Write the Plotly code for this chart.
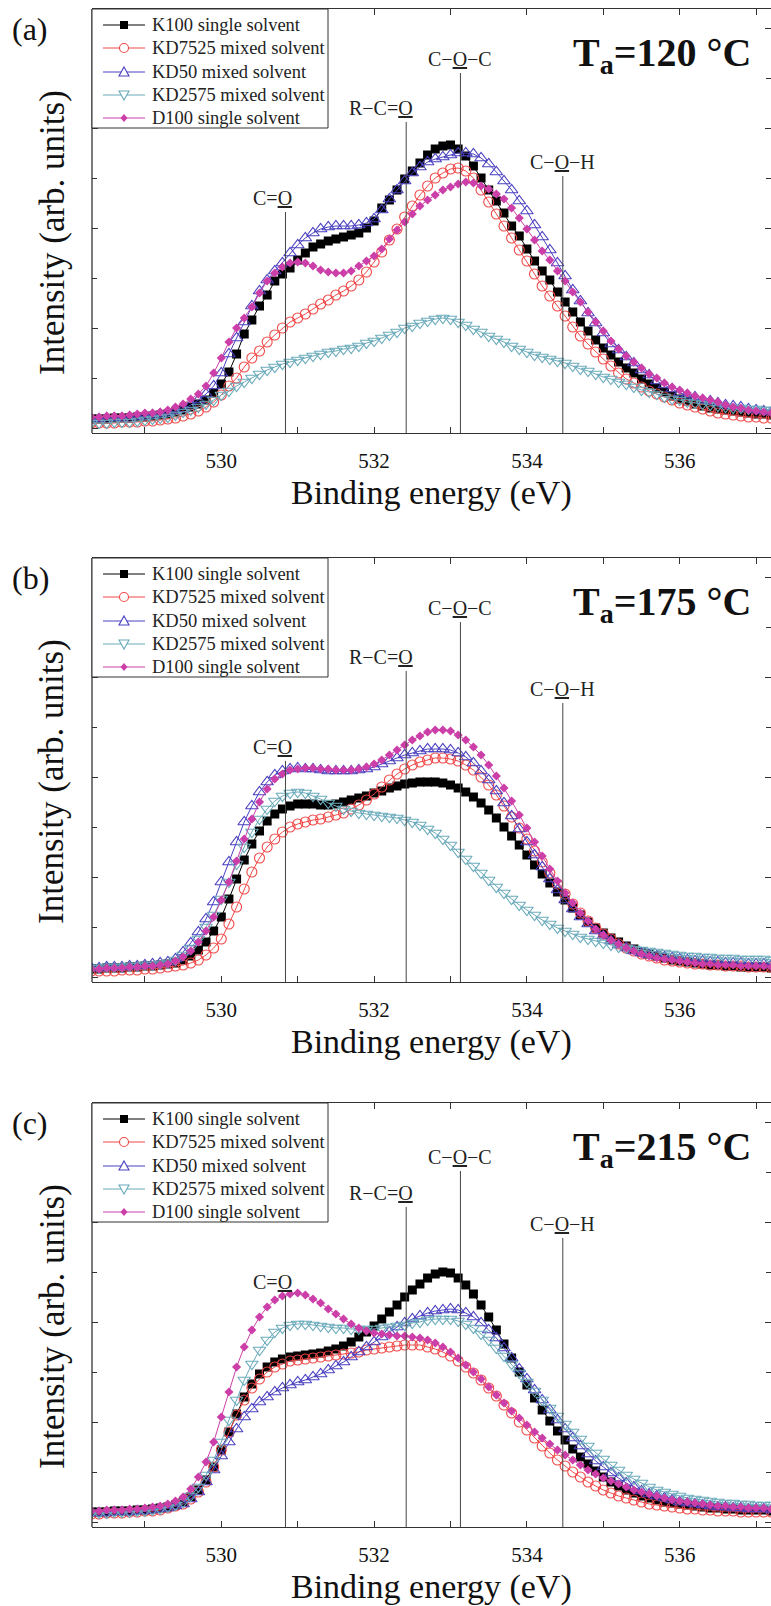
import numpy as np
import plotly.graph_objects as go

W, H = 771, 1606

# Binding-energy grid (eV), 0.1 eV steps
energy = np.round(np.arange(528.3, 537.25, 0.1), 1)

# ---------------- (a) Ta = 120 C ----------------
k100_a = [0.09,0.09,0.09,0.10,0.10,0.10,0.11,0.11,
          0.12,0.13,0.14,0.16,0.18,0.21,0.24,0.28,0.35,0.44,
          0.56,0.74,0.94,1.08,1.22,1.33,1.47,1.54,1.60,1.68,
          1.75,1.81,1.84,1.87,1.89,1.91,1.93,1.95,2.00,2.07,
          2.20,2.28,2.38,2.49,2.57,2.65,2.73,2.79,2.82,2.83,
          2.79,2.72,2.62,2.50,2.38,2.27,2.15,2.02,1.92,1.79,
          1.67,1.57,1.48,1.36,1.26,1.16,1.06,0.97,0.88,0.80,
          0.73,0.66,0.60,0.55,0.49,0.44,0.40,0.36,0.32,0.29,
          0.27,0.24,0.22,0.20,0.19,0.18,0.17,0.16,0.15,0.14,
          0.14,0.13]
kd7525_a = [0.05,0.05,0.05,0.05,0.06,0.06,0.06,0.07,
            0.07,0.08,0.09,0.10,0.12,0.14,0.17,0.21,0.26,0.33,
            0.42,0.50,0.61,0.70,0.77,0.86,0.93,1.00,1.06,1.10,
            1.14,1.19,1.24,1.28,1.33,1.37,1.42,1.48,1.56,1.66,
            1.76,1.88,1.99,2.11,2.22,2.33,2.42,2.50,2.55,2.59,
            2.60,2.57,2.50,2.38,2.26,2.14,2.02,1.90,1.78,1.67,
            1.54,1.42,1.32,1.22,1.12,1.01,0.92,0.84,0.76,0.69,
            0.62,0.55,0.49,0.45,0.41,0.37,0.34,0.31,0.28,0.25,
            0.23,0.21,0.19,0.17,0.15,0.14,0.13,0.12,0.11,0.11,
            0.10,0.10]
kd50_a = [0.09,0.09,0.10,0.10,0.10,0.11,0.11,0.12,
          0.13,0.14,0.15,0.17,0.19,0.23,0.28,0.34,0.42,0.55,
          0.74,0.90,1.06,1.22,1.37,1.48,1.57,1.65,1.75,1.83,
          1.90,1.95,1.99,2.01,2.02,2.02,2.02,2.03,2.05,2.09,
          2.18,2.29,2.38,2.47,2.55,2.61,2.66,2.69,2.71,2.73,
          2.75,2.75,2.74,2.70,2.64,2.56,2.47,2.38,2.27,2.17,
          2.03,1.91,1.78,1.65,1.52,1.38,1.27,1.15,1.05,0.95,
          0.84,0.78,0.71,0.65,0.58,0.53,0.47,0.43,0.39,0.35,
          0.33,0.31,0.28,0.27,0.25,0.23,0.22,0.21,0.19,0.18,
          0.17,0.16]
kd2575_a = [0.05,0.05,0.05,0.06,0.06,0.06,0.07,0.08,
            0.09,0.10,0.11,0.13,0.16,0.18,0.21,0.24,0.28,0.33,
            0.37,0.42,0.46,0.50,0.54,0.58,0.61,0.64,0.66,0.68,
            0.70,0.72,0.74,0.76,0.77,0.79,0.80,0.82,0.85,0.87,
            0.90,0.93,0.96,1.00,1.02,1.05,1.07,1.09,1.10,1.09,
            1.06,1.03,0.99,0.96,0.92,0.89,0.86,0.82,0.79,0.76,
            0.73,0.71,0.69,0.67,0.65,0.62,0.59,0.57,0.54,0.51,
            0.49,0.46,0.44,0.41,0.38,0.36,0.34,0.31,0.29,0.28,
            0.26,0.25,0.24,0.23,0.22,0.21,0.20,0.20,0.19,0.19,
            0.18,0.18]
d100_a = [0.11,0.11,0.12,0.12,0.12,0.13,0.14,0.15,
          0.15,0.16,0.18,0.21,0.24,0.29,0.34,0.42,0.55,0.70,
          0.86,1.00,1.10,1.21,1.35,1.47,1.55,1.61,1.65,1.66,
          1.65,1.62,1.58,1.56,1.55,1.55,1.57,1.62,1.67,1.72,
          1.79,1.89,1.98,2.06,2.14,2.22,2.28,2.33,2.38,2.41,
          2.44,2.46,2.45,2.42,2.39,2.34,2.29,2.20,2.10,1.99,
          1.88,1.77,1.68,1.57,1.47,1.36,1.26,1.16,1.06,0.97,
          0.87,0.79,0.72,0.66,0.60,0.54,0.50,0.45,0.41,0.38,
          0.35,0.32,0.30,0.28,0.26,0.23,0.21,0.20,0.18,0.17,
          0.16,0.15]

# ---------------- (b) Ta = 175 C ----------------
k100_b = [0.08,0.08,0.09,0.09,0.09,0.10,0.10,0.11,
          0.11,0.12,0.13,0.14,0.17,0.21,0.27,0.35,0.46,0.60,
          0.78,0.98,1.17,1.33,1.46,1.56,1.63,1.68,1.71,1.73,
          1.73,1.73,1.72,1.72,1.73,1.75,1.77,1.79,1.81,1.84,
          1.86,1.89,1.91,1.93,1.94,1.95,1.95,1.95,1.94,1.92,
          1.89,1.85,1.80,1.74,1.67,1.59,1.50,1.41,1.32,1.22,
          1.12,1.03,0.94,0.85,0.77,0.69,0.62,0.55,0.49,0.44,
          0.39,0.35,0.31,0.28,0.25,0.23,0.21,0.19,0.17,0.16,
          0.15,0.14,0.13,0.12,0.12,0.11,0.11,0.10,0.10,0.10,
          0.10,0.09]
kd7525_b = [0.06,0.06,0.06,0.06,0.07,0.07,0.07,0.08,
            0.08,0.09,0.10,0.11,0.12,0.14,0.17,0.22,0.29,0.38,
            0.53,0.70,0.88,1.05,1.19,1.30,1.38,1.45,1.50,1.53,
            1.55,1.57,1.58,1.60,1.62,1.64,1.68,1.72,1.77,1.83,
            1.90,1.97,2.03,2.08,2.12,2.15,2.17,2.19,2.19,2.18,
            2.16,2.12,2.07,2.00,1.92,1.82,1.71,1.60,1.49,1.38,
            1.26,1.15,1.04,0.93,0.83,0.73,0.64,0.56,0.49,0.43,
            0.38,0.33,0.29,0.26,0.23,0.21,0.19,0.17,0.16,0.15,
            0.14,0.13,0.13,0.12,0.12,0.11,0.11,0.11,0.10,0.10,
            0.10,0.10]
kd50_b = [0.09,0.09,0.10,0.10,0.10,0.11,0.11,0.12,
          0.13,0.14,0.15,0.18,0.25,0.34,0.45,0.58,0.75,0.95,
          1.15,1.35,1.55,1.71,1.85,1.95,2.02,2.06,2.08,2.09,
          2.08,2.08,2.07,2.06,2.06,2.06,2.06,2.07,2.08,2.10,
          2.13,2.16,2.19,2.22,2.24,2.26,2.28,2.28,2.28,2.27,
          2.24,2.20,2.14,2.06,1.97,1.86,1.74,1.61,1.48,1.35,
          1.22,1.10,0.98,0.87,0.77,0.68,0.60,0.53,0.46,0.41,
          0.36,0.32,0.29,0.26,0.24,0.22,0.21,0.20,0.19,0.18,
          0.17,0.16,0.16,0.15,0.15,0.14,0.14,0.14,0.13,0.13,
          0.13,0.12]
kd2575_b = [0.09,0.09,0.10,0.10,0.10,0.11,0.11,0.12,
            0.12,0.13,0.14,0.17,0.22,0.29,0.38,0.50,0.62,0.78,
            0.95,1.13,1.30,1.45,1.58,1.68,1.76,1.81,1.84,1.85,
            1.84,1.81,1.78,1.74,1.71,1.68,1.66,1.64,1.63,1.62,
            1.61,1.60,1.59,1.57,1.55,1.52,1.48,1.44,1.38,1.32,
            1.25,1.18,1.11,1.04,0.97,0.90,0.84,0.78,0.72,0.67,
            0.62,0.57,0.53,0.49,0.46,0.43,0.40,0.38,0.36,0.34,
            0.32,0.30,0.29,0.28,0.27,0.26,0.25,0.24,0.23,0.22,
            0.21,0.21,0.20,0.20,0.19,0.19,0.19,0.18,0.18,0.18,
            0.18,0.17]
d100_b = [0.08,0.08,0.09,0.09,0.09,0.10,0.10,0.11,
          0.11,0.12,0.13,0.16,0.20,0.26,0.35,0.46,0.60,0.77,
          0.95,1.16,1.38,1.58,1.75,1.88,1.98,2.03,2.07,2.08,
          2.09,2.09,2.08,2.08,2.07,2.07,2.07,2.08,2.10,2.13,
          2.17,2.22,2.27,2.32,2.37,2.41,2.45,2.47,2.47,2.46,
          2.42,2.37,2.30,2.22,2.12,2.01,1.89,1.76,1.62,1.49,
          1.35,1.21,1.08,0.96,0.84,0.74,0.64,0.56,0.48,0.42,
          0.37,0.33,0.29,0.26,0.23,0.21,0.19,0.18,0.17,0.16,
          0.15,0.14,0.13,0.13,0.12,0.12,0.12,0.11,0.11,0.11,
          0.11,0.10]

# ---------------- (c) Ta = 215 C ----------------
k100_c = [0.10,0.10,0.10,0.11,0.11,0.11,0.12,0.12,
          0.13,0.14,0.15,0.17,0.20,0.25,0.32,0.42,0.55,0.72,
          0.90,1.08,1.25,1.38,1.48,1.55,1.60,1.63,1.65,1.66,
          1.67,1.68,1.69,1.71,1.73,1.76,1.80,1.85,1.90,1.96,
          2.03,2.10,2.17,2.25,2.32,2.38,2.44,2.48,2.50,2.49,
          2.44,2.37,2.28,2.17,2.05,1.92,1.78,1.64,1.50,1.37,
          1.24,1.12,1.01,0.91,0.82,0.73,0.65,0.58,0.51,0.45,
          0.40,0.36,0.32,0.29,0.26,0.24,0.22,0.20,0.19,0.18,
          0.17,0.16,0.15,0.14,0.14,0.13,0.13,0.12,0.12,0.12,
          0.12,0.11]
kd7525_c = [0.08,0.08,0.09,0.09,0.09,0.10,0.10,0.11,
            0.11,0.12,0.14,0.16,0.18,0.23,0.30,0.40,0.55,0.72,
            0.90,1.07,1.22,1.34,1.43,1.50,1.55,1.58,1.61,1.62,
            1.63,1.64,1.65,1.66,1.67,1.68,1.69,1.70,1.72,1.73,
            1.74,1.75,1.76,1.77,1.77,1.77,1.75,1.73,1.70,1.66,
            1.61,1.55,1.49,1.42,1.34,1.26,1.17,1.09,1.00,0.92,
            0.84,0.76,0.69,0.62,0.56,0.50,0.45,0.40,0.36,0.32,
            0.29,0.26,0.24,0.22,0.20,0.18,0.17,0.16,0.15,0.14,
            0.13,0.13,0.12,0.12,0.11,0.11,0.11,0.10,0.10,0.10,
            0.10,0.10]
kd50_c = [0.09,0.09,0.09,0.10,0.10,0.10,0.11,0.11,
          0.12,0.13,0.14,0.16,0.18,0.23,0.30,0.40,0.52,0.66,
          0.80,0.93,1.05,1.13,1.20,1.25,1.30,1.34,1.37,1.40,
          1.42,1.45,1.48,1.52,1.56,1.60,1.65,1.70,1.75,1.80,
          1.85,1.90,1.95,1.99,2.03,2.06,2.09,2.11,2.12,2.13,
          2.12,2.09,2.05,1.99,1.92,1.84,1.74,1.64,1.53,1.43,
          1.32,1.22,1.12,1.02,0.93,0.84,0.76,0.68,0.61,0.55,
          0.49,0.44,0.39,0.35,0.31,0.28,0.26,0.24,0.22,0.20,
          0.19,0.18,0.17,0.16,0.15,0.15,0.14,0.14,0.13,0.13,
          0.13,0.12]
kd2575_c = [0.09,0.09,0.09,0.10,0.10,0.10,0.11,0.11,
            0.12,0.13,0.15,0.17,0.20,0.26,0.35,0.47,0.62,0.80,
            1.02,1.22,1.42,1.58,1.72,1.82,1.90,1.94,1.97,1.98,
            1.98,1.97,1.96,1.95,1.94,1.94,1.93,1.93,1.93,1.93,
            1.94,1.95,1.96,1.97,1.99,2.00,2.02,2.03,2.03,2.03,
            2.01,1.98,1.94,1.88,1.82,1.74,1.66,1.58,1.49,1.40,
            1.31,1.22,1.14,1.06,0.98,0.90,0.83,0.76,0.69,0.63,
            0.57,0.52,0.47,0.43,0.39,0.35,0.32,0.30,0.28,0.26,
            0.24,0.23,0.22,0.21,0.20,0.19,0.19,0.18,0.18,0.17,
            0.17,0.17]
d100_c = [0.11,0.11,0.12,0.12,0.12,0.13,0.13,0.14,
          0.15,0.16,0.18,0.21,0.25,0.33,0.45,0.60,0.80,1.05,
          1.30,1.55,1.75,1.92,2.05,2.15,2.22,2.26,2.28,2.29,
          2.27,2.23,2.19,2.13,2.08,2.03,1.98,1.94,1.91,1.89,
          1.88,1.87,1.86,1.86,1.85,1.84,1.82,1.79,1.75,1.70,
          1.64,1.57,1.50,1.43,1.35,1.27,1.19,1.11,1.04,0.97,
          0.90,0.84,0.78,0.72,0.67,0.62,0.57,0.52,0.48,0.44,
          0.41,0.38,0.35,0.32,0.30,0.28,0.26,0.24,0.22,0.21,
          0.20,0.19,0.18,0.17,0.16,0.16,0.15,0.15,0.14,0.14,
          0.14,0.13]

series_names = ["K100 single solvent", "KD7525 mixed solvent", "KD50 mixed solvent",
                "KD2575 mixed solvent", "D100 single solvent"]
panels = [
    dict(tag="(a)", temp="120", data=[k100_a, kd7525_a, kd50_a, kd2575_a, d100_a]),
    dict(tag="(b)", temp="175", data=[k100_b, kd7525_b, kd50_b, kd2575_b, d100_b]),
    dict(tag="(c)", temp="215", data=[k100_c, kd7525_c, kd50_c, kd2575_c, d100_c]),
]

# Oxygen bonding environments marked on every spectrum
bond_labels = ["C=<u>O</u>", "R\u2212C=<u>O</u>", "C\u2212<u>O</u>\u2212C", "C\u2212<u>O</u>\u2212H"]
bond_energies = [530.84, 532.42, 533.13, 534.47]

# ---- styling ----
SERIF = "Liberation Serif, Times New Roman, Times, serif"
colors = ["#000000", "#f04848", "#4a40c0", "#6aaabb", "#cc3fa8"]
markers = [
    dict(symbol="square", size=9, color="#000000", line=dict(width=0)),
    dict(symbol="circle-open", size=10, color="#f04848", line=dict(width=1.1)),
    dict(symbol="triangle-up-open", size=11, color="#4a40c0", line=dict(width=1.1)),
    dict(symbol="triangle-down-open", size=11, color="#6aaabb", line=dict(width=1.1)),
    dict(symbol="diamond", size=7, color="#cc3fa8", line=dict(width=0)),
]

panel_top = [9, 558, 1103]       # px from top of page
plot_h = 424
left_px = 92
# label heights (px below panel top) for C=O, R-C=O, C-O-C, C-O-H
label_y = [[189, 99, 50, 153], [189, 99, 50, 131], [179, 90, 54, 121]]
label_anchor = ["right", "right", "center", "center"]
label_dx = [9, 9, 0, 0]

# legend box geometry (px, relative to panel top-left)
leg_right = 328
leg_h = 119
leg_rows = [16, 39, 63, 86, 109]
leg_line = (103, 145)
leg_text_x = 150


def px(x):
    return x / W


def py(y):
    return 1 - y / H


def path(points):
    return "M " + " L ".join(f"{px(x):.6f},{py(y):.6f}" for x, y in points) + " Z"


def legend_marker(k, cx, cy):
    col = colors[k]
    if k == 0:
        s = 4
        return dict(type="rect", xref="paper", yref="paper", x0=px(cx - s), x1=px(cx + s),
                    y0=py(cy + s), y1=py(cy - s), fillcolor=col, line=dict(width=0), layer="above")
    if k == 1:
        r = 4.5
        return dict(type="circle", xref="paper", yref="paper", x0=px(cx - r), x1=px(cx + r),
                    y0=py(cy + r), y1=py(cy - r), fillcolor="white",
                    line=dict(color=col, width=1.1), layer="above")
    if k == 2:
        pts = [(cx, cy - 5), (cx + 5, cy + 4), (cx - 5, cy + 4)]
        return dict(type="path", xref="paper", yref="paper", path=path(pts), fillcolor="white",
                    line=dict(color=col, width=1.1), layer="above")
    if k == 3:
        pts = [(cx, cy + 5), (cx + 5, cy - 4), (cx - 5, cy - 4)]
        return dict(type="path", xref="paper", yref="paper", path=path(pts), fillcolor="white",
                    line=dict(color=col, width=1.1), layer="above")
    pts = [(cx, cy - 4), (cx + 3.5, cy), (cx, cy + 4), (cx - 3.5, cy)]
    return dict(type="path", xref="paper", yref="paper", path=path(pts), fillcolor=col,
                line=dict(width=0), layer="above")


x_range = [530 - (221.3 - left_px) / 76.4, 530 - (221.3 - left_px) / 76.4 + (W - left_px) / 76.4]
y_range = [-0.05, -0.05 + plot_h / 100.0]

fig = go.Figure()
annotations = []
shapes = []

for p, panel in enumerate(panels):
    n = p + 1
    xa = "x" if n == 1 else f"x{n}"
    ya = "y" if n == 1 else f"y{n}"
    top = panel_top[p]
    bottom = top + plot_h

    for k, name in enumerate(series_names):
        fig.add_trace(go.Scatter(
            x=energy, y=panel["data"][k], name=name, mode="lines+markers",
            line=dict(color=colors[k], width=1), marker=markers[k],
            xaxis=xa, yaxis=ya, showlegend=False, cliponaxis=True,
        ))

    ax_common = dict(showgrid=False, zeroline=False, ticks="inside", linecolor="#333",
                     tickcolor="#333", linewidth=1.3, tickwidth=1.2)
    fig.update_layout(**{
        ("xaxis" if n == 1 else f"xaxis{n}"): dict(
            ax_common, domain=[px(left_px), 1.0], range=x_range, anchor=ya,
            showline=True, mirror="ticks", dtick=2, tick0=530, ticklen=6,
            minor=dict(dtick=1, tick0=530, ticks="inside", ticklen=6, tickcolor="#333", tickwidth=1.2),
            tickfont=dict(family=SERIF, size=21, color="#111"), ticklabelstandoff=9,
        ),
        ("yaxis" if n == 1 else f"yaxis{n}"): dict(
            ax_common, domain=[py(bottom), py(top)], range=y_range, anchor=xa,
            showline=False, mirror="ticks", dtick=1, tick0=0, ticklen=6,
            minor=dict(dtick=0.5, ticks="inside", ticklen=5, tickcolor="#333", tickwidth=1.2),
            showticklabels=False,
        ),
    })

    # left spine of the plot box
    shapes.append(dict(type="line", xref=f"{xa} domain", yref=f"{ya} domain",
                       x0=0, x1=0, y0=0, y1=1, line=dict(color="#333", width=1.3), layer="above"))

    # legend box with line + marker samples
    shapes.append(dict(type="rect", xref="paper", yref="paper", x0=px(left_px), x1=px(leg_right),
                       y0=py(top + leg_h), y1=py(top), fillcolor="white",
                       line=dict(color="#333", width=1), layer="above"))
    for k, name in enumerate(series_names):
        ry = top + leg_rows[k]
        shapes.append(dict(type="line", xref="paper", yref="paper", x0=px(leg_line[0]),
                           x1=px(leg_line[1]), y0=py(ry), y1=py(ry),
                           line=dict(color=colors[k], width=1), layer="above"))
        shapes.append(legend_marker(k, (leg_line[0] + leg_line[1]) / 2, ry))
        annotations.append(dict(x=px(leg_text_x), y=py(ry), xref="paper", yref="paper", text=name,
                                showarrow=False, xanchor="left", yanchor="middle",
                                font=dict(family=SERIF, size=18.5, color="#222")))

    # bond markers: label + vertical line down to the axis
    for j, (lab, e) in enumerate(zip(bond_labels, bond_energies)):
        ly = top + label_y[p][j]
        annotations.append(dict(
            x=e, xref=xa, y=py(ly), yref="paper", text=lab, showarrow=False,
            xanchor=label_anchor[j], xshift=label_dx[j], yanchor="middle",
            font=dict(family=SERIF, size=20, color="#222")))
        shapes.append(dict(type="line", xref=xa, yref="paper", x0=e, x1=e,
                           y0=py(ly + 14), y1=py(bottom), line=dict(color="#444", width=1)))

    # panel tag
    annotations.append(dict(x=px(30), y=py(top + 20), xref="paper", yref="paper", text=panel["tag"],
                            showarrow=False, xanchor="center", yanchor="middle",
                            font=dict(family=SERIF, size=32, color="#111")))
    # annealing temperature
    annotations.append(dict(x=px(753), y=py(top + 46), xref="paper", yref="paper",
                            text="<b>T<sub>a</sub>=" + panel["temp"] + " \u00b0C</b>",
                            showarrow=False, xanchor="right", yanchor="middle",
                            font=dict(family=SERIF, size=40, color="#111")))
    # axis titles
    annotations.append(dict(x=px((left_px + W) / 2), y=py(bottom + 60), xref="paper", yref="paper",
                            text="Binding energy (eV)", showarrow=False, xanchor="center",
                            yanchor="middle", font=dict(family=SERIF, size=34, color="#111")))
    annotations.append(dict(x=px(52), y=py(top + 224), xref="paper", yref="paper",
                            text="Intensity (arb. units)", showarrow=False, textangle=-90,
                            xanchor="center", yanchor="middle",
                            font=dict(family=SERIF, size=35, color="#111")))

fig.update_layout(
    width=W, height=H, margin=dict(l=0, r=0, t=0, b=0),
    paper_bgcolor="white", plot_bgcolor="white", showlegend=False,
    annotations=annotations, shapes=shapes,
)

fig.write_html("out.html")
